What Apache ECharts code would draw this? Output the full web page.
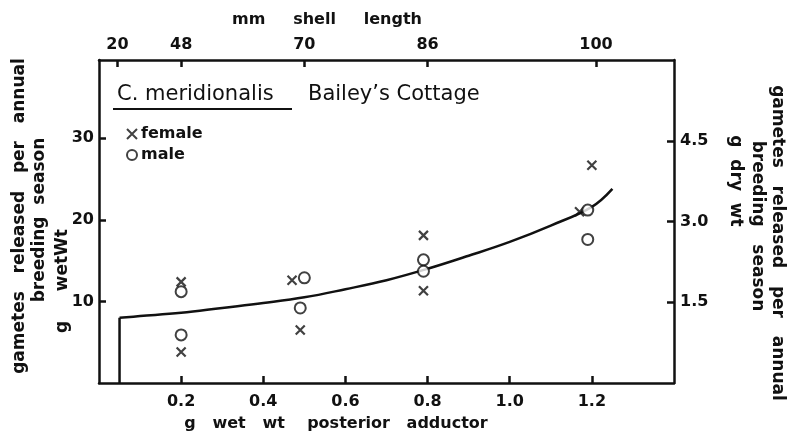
<!DOCTYPE html>
<html>
<head>
<meta charset="utf-8">
<script src="https://cdn.jsdelivr.net/npm/echarts@6/dist/echarts.min.js"></script>
<style>
  html, body { margin: 0; padding: 0; background: #fff; }
  #chart { width: 791px; height: 435px; }
</style>
</head>
<body>
<div id="chart"></div>
<script>
// bottom axis: g wet wt posterior adductor
const weightTicks = [0.2, 0.4, 0.6, 0.8, 1.0, 1.2];
// top axis: mm shell length (non-linear, placed at weight positions)
const shellTickPos = [0.045, 0.2, 0.5, 0.8, 1.21];
const shellTickLabels = ['20', '48', '70', '86', '100'];
// left axis: g wet wt, right axis: g dry wt
const wetTicks = [10, 20, 30];
const dryTicks = [1.5, 3.0, 4.5];

// observations [g wet wt adductor, g wet wt gametes]
const femaleData = [
    [0.2, 12.4], [0.2, 3.8], [0.47, 12.6], [0.49, 6.5],
    [0.79, 18.1], [0.79, 11.3], [1.2, 26.7], [1.17, 21.0]
];
const maleData = [
    [0.2, 11.2], [0.2, 5.9], [0.5, 12.9], [0.49, 9.2],
    [0.79, 15.1], [0.79, 13.7], [1.19, 21.2], [1.19, 17.6]
];
// fitted curve: vertical start, then the smooth part
const curveStart = [[0.05, 0], [0.05, 8.0]];
const curveData = [
    [0.05, 8.0], [0.1, 8.2], [0.2, 8.6], [0.3, 9.2],
    [0.4, 9.8], [0.5, 10.5], [0.6, 11.5], [0.7, 12.6], [0.8, 14.0],
    [0.9, 15.6], [1.0, 17.3], [1.1, 19.3], [1.2, 21.6], [1.25, 23.8]
];

const ink = '#111';
const font = 'DejaVu Sans';
const crossPath = 'path://M0,0L10,10M10,0L0,10';

const chart = echarts.init(document.getElementById('chart'));

function axisBase(pos, min, max) {
    return {
        type: 'value',
        position: pos,
        min: min,
        max: max,
        splitLine: { show: false },
        axisLine: { show: true, onZero: false, lineStyle: { color: ink, width: 2.5 } },
        axisTick: { show: true, inside: true, length: 7, lineStyle: { color: ink, width: 2.5 } },
        axisLabel: { color: ink, fontFamily: font, fontSize: 16, fontWeight: 'bold' }
    };
}

const xBottom = axisBase('bottom', 0, 1.4);
xBottom.axisTick.customValues = weightTicks;
xBottom.axisLabel.customValues = weightTicks;
xBottom.axisLabel.margin = 11;
xBottom.axisLabel.formatter = v => v.toFixed(1);

const xTop = axisBase('top', 0, 1.4);
xTop.axisTick.customValues = shellTickPos;
xTop.axisLabel.customValues = shellTickPos;
xTop.axisLabel.margin = 7;
xTop.axisLabel.formatter = function (v) {
    const i = shellTickPos.findIndex(p => Math.abs(p - v) < 1e-6);
    return i >= 0 ? shellTickLabels[i] : '';
};

const yLeft = axisBase('left', 0, 39.6);
yLeft.axisTick.customValues = wetTicks;
yLeft.axisLabel.customValues = wetTicks;
yLeft.axisLabel.margin = 5;

const yRight = axisBase('right', 0, 6.0);
yRight.axisTick.customValues = dryTicks;
yRight.axisLabel.customValues = dryTicks;
yRight.axisLabel.margin = 6;
yRight.axisLabel.formatter = v => v.toFixed(1);

function vText(x, y, text, rot, size) {
    return {
        type: 'text', x: x, y: y, rotation: rot,
        style: {
            text: text, fill: ink, font: 'bold ' + size + 'px "' + font + '"',
            align: 'center', verticalAlign: 'middle'
        }
    };
}

const option = {
    animation: false,
    backgroundColor: '#fff',
    grid: { left: 99, right: 117, top: 60, bottom: 52 },
    xAxis: [xBottom, xTop],
    yAxis: [yLeft, yRight],
    legend: {
        orient: 'vertical',
        left: 121, top: 121,
        itemGap: 5,
        itemWidth: 10, itemHeight: 10,
        textStyle: { color: ink, fontFamily: font, fontSize: 16, fontWeight: 'bold', padding: [0, 0, 0, -1] },
        data: [
            { name: 'female', icon: crossPath, itemStyle: { color: 'rgba(0,0,0,0)', borderColor: ink, borderWidth: 2 } },
            { name: 'male', icon: 'circle', itemStyle: { color: '#fff', borderColor: ink, borderWidth: 2 } }
        ]
    },
    graphic: [
        { type: 'text', x: 117, y: 95, style: { text: 'C. meridionalis', fill: ink, font: '21px "' + font + '"', verticalAlign: 'middle' } },
        { type: 'line', shape: { x1: 113, y1: 109, x2: 292, y2: 109 }, style: { stroke: ink, lineWidth: 2 } },
        { type: 'text', x: 308, y: 95, style: { text: 'Bailey\u2019s Cottage', fill: ink, font: '21px "' + font + '"', verticalAlign: 'middle' } },
        { type: 'text', x: 327, y: 20, style: { text: 'mm     shell     length', fill: ink, font: 'bold 16px "' + font + '"', align: 'center', verticalAlign: 'middle' } },
        { type: 'text', x: 336, y: 424, style: { text: 'g   wet   wt    posterior   adductor', fill: ink, font: 'bold 16px "' + font + '"', align: 'center', verticalAlign: 'middle' } },
        vText(20, 216, 'gametes   released   per   annual', Math.PI / 2, 17),
        vText(40, 220, 'breeding  season', Math.PI / 2, 17),
        vText(63, 281, 'g     wetWt', Math.PI / 2, 17),
        vText(777, 243, 'gametes   released   per   annual', -Math.PI / 2, 17),
        vText(757, 226, 'breeding   season', -Math.PI / 2, 17),
        vText(735, 181, 'g  dry  wt', -Math.PI / 2, 17)
    ],
    series: [
        {
            name: 'curveStart',
            type: 'line',
            xAxisIndex: 0, yAxisIndex: 0,
            data: curveStart,
            symbol: 'none',
            lineStyle: { color: ink, width: 2.5 },
            z: 2
        },
        {
            name: 'curve',
            type: 'line',
            xAxisIndex: 0, yAxisIndex: 0,
            data: curveData,
            symbol: 'none',
            smooth: 0.4,
            lineStyle: { color: ink, width: 2.5 },
            z: 2
        },
        {
            name: 'female',
            type: 'scatter',
            xAxisIndex: 0, yAxisIndex: 0,
            data: femaleData,
            symbol: crossPath,
            symbolSize: 9,
            itemStyle: { color: 'rgba(0,0,0,0)', borderColor: ink, borderWidth: 2.2 },
            z: 3
        },
        {
            name: 'male',
            type: 'scatter',
            xAxisIndex: 0, yAxisIndex: 0,
            data: maleData,
            symbol: 'circle',
            symbolSize: 11,
            itemStyle: { color: '#fff', borderColor: ink, borderWidth: 2 },
            z: 4
        }
    ]
};

chart.setOption(option);
</script>
</body>
</html>
